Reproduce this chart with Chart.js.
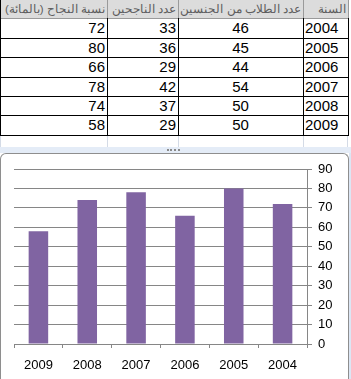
<!DOCTYPE html>
<html>
<head>
<meta charset="utf-8">
<script src="https://cdn.jsdelivr.net/npm/chart.js@4"></script>
<style>
    body { margin: 0; background: #fff; width: 351px; height: 379px; overflow: hidden; position: relative; font-family: "Liberation Sans", Arial, sans-serif; }
    #sheet { position: absolute; left: 0; top: 0; }
    .cell { position: absolute; box-sizing: border-box; border-right: 1px solid #000; border-bottom: 1px solid #000; font-size: 15px; line-height: 19px; padding: 0 2px; white-space: nowrap; overflow: hidden; color: #000; }
    .head { background: #dcdcdc; color: #5e5e5e; font-size: 11.5px; border-color: #9a9a9a; direction: rtl; }
    .gl { position: absolute; width: 1px; background: #d4dbe6; }
    #band { position: absolute; left: 0; top: 147px; width: 351px; height: 6px; background: #e4ecf7; }
    #grip { position: absolute; left: 167px; top: 149px; width: 13px; height: 2px; border-top: 2px dotted #8a8a8a; }
    #frame { position: absolute; left: 0; top: 153px; width: 347px; height: 240px; border: 1px solid #8e8e8e; border-bottom: none; border-radius: 6px 6px 0 0; background: #fff; }
    #frame canvas { position: absolute; left: 0; top: 0; }
    #edge { position: absolute; left: 349px; top: 153px; width: 2px; height: 226px; background: #dce6f4; }
</style>
</head>
<body>
<div id="sheet"></div>
<div id="band"></div>
<div id="grip"></div>
<div id="frame"><canvas id="myChart" width="347" height="226"></canvas></div>
<div id="edge"></div>
<script>
// جدول البيانات
var headers = ['السنة', 'عدد الطلاب من الجنسين', 'عدد الناجحين', 'نسبة النجاح (بالمائة)'];
var years = ['2004', '2005', '2006', '2007', '2008', '2009'];
var students = [46, 45, 44, 54, 50, 50];
var passed = [33, 36, 29, 42, 37, 29];
var passRate = [72, 80, 66, 78, 74, 58];

document.addEventListener('DOMContentLoaded', function () {
    var sheet = document.getElementById('sheet');
    // column edges, right to left
    var cols = [{ left: 303, width: 45, align: 'left' },
                { left: 178, width: 125, align: 'center' },
                { left: 107, width: 71, align: 'right' },
                { left: 0, width: 107, align: 'right' }];
    var rowTops = [0, 19, 39, 58, 78, 97, 116];
    var rowBottoms = [19, 39, 58, 78, 97, 116, 136];

    function addCell(text, col, r, isHead) {
        var d = document.createElement('div');
        d.className = 'cell' + (isHead ? ' head' : '');
        d.textContent = text;
        d.style.left = col.left + 'px';
        d.style.width = (col.width + 1) + 'px';
        d.style.top = (rowTops[r] - 1) + 'px';
        d.style.height = (rowBottoms[r] - rowTops[r] + 1) + 'px';
        d.style.borderLeft = col.left === 0 ? '1px solid #000' : 'none';
        d.style.textAlign = isHead ? 'right' : col.align;
        if (isHead) d.style.lineHeight = '20px';
        sheet.appendChild(d);
    }

    headers.forEach(function (h, i) { addCell(h, cols[i], 0, true); });
    years.forEach(function (y, r) {
        var row = [y, students[r], passed[r], passRate[r]];
        row.forEach(function (v, i) { addCell(String(v), cols[i], r + 1, false); });
    });

    // light empty-row grid lines under the table
    [0, 107, 178, 303, 347].forEach(function (x) {
        var g = document.createElement('div');
        g.className = 'gl';
        g.style.left = x + 'px';
        g.style.top = '136px';
        g.style.height = '11px';
        sheet.appendChild(g);
    });

    var ctx = document.getElementById('myChart');
    var gray = '#868686';
    new Chart(ctx, {
        type: 'bar',
        data: {
            labels: years,
            datasets: [{
                data: passRate,
                backgroundColor: '#8064a2',
                borderWidth: 0,
                categoryPercentage: 1,
                barPercentage: 0.4
            }]
        },
        options: {
            responsive: false,
            animation: false,
            plugins: { legend: { display: false }, tooltip: { enabled: false } },
            layout: { padding: { left: 13, top: 15, right: 0, bottom: 0 } },
            scales: {
                x: {
                    reverse: true,
                    grid: { drawOnChartArea: false, drawTicks: true, tickLength: 4, color: gray, offset: true },
                    border: { color: gray },
                    ticks: { color: '#000', font: { family: 'Liberation Sans', size: 13 }, padding: 10, maxRotation: 0 },
                    afterFit: function (scale) { scale.height = 36; }
                },
                y: {
                    position: 'right',
                    min: 0,
                    max: 90,
                    ticks: { stepSize: 10, color: '#000', font: { family: 'Liberation Sans', size: 13 }, padding: 6 },
                    grid: { color: gray, tickLength: 5 },
                    border: { color: gray },
                    afterFit: function (scale) { scale.width = 41; }
                }
            }
        }
    });
});
</script>
</body>
</html>
